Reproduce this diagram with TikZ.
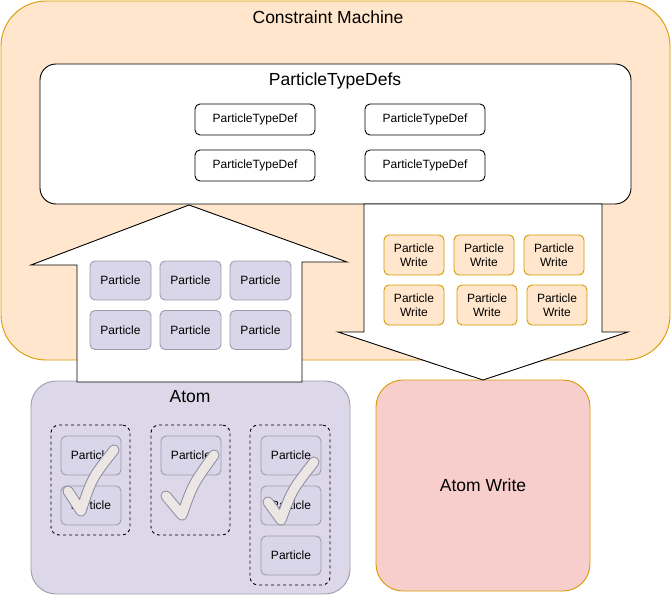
\documentclass[tikz,border=0pt]{standalone}
\usepackage{fontspec}
\setmainfont{Liberation Sans}
\definecolor{cmfill}{HTML}{FFE6CC}
\definecolor{cmline}{HTML}{D79B00}
\definecolor{partfill}{HTML}{D8D6E8}
\definecolor{partline}{HTML}{9C9CAC}
\definecolor{atomfill}{HTML}{DCD8EA}
\definecolor{writefill}{HTML}{F8CECC}
\definecolor{tickfill}{HTML}{ECE6E4}
\definecolor{tickline}{HTML}{8E8E9E}
\tikzset{
  bigtext/.style={font=\fontsize{17.5}{20}\selectfont},
  smalltext/.style={font=\fontsize{12}{14}\selectfont, align=center, inner sep=0pt},
  defbox/.style={smalltext, draw, fill=white, rounded corners=5pt, minimum width=120pt, minimum height=31pt},
  partbox/.style={smalltext, draw=partline, fill=partfill, rounded corners=5pt, minimum width=61pt, minimum height=39pt},
  writebox/.style={smalltext, draw=cmline, fill=cmfill, rounded corners=5pt, minimum width=60pt, minimum height=40pt},
  group/.style={draw, dash pattern=on 3pt off 3pt, rounded corners=8pt, inner sep=0pt},
  tick/.style={draw=tickline, line width=11pt, line cap=round, line join=round,
    postaction={draw=tickfill, line width=9pt}}
}
\begin{document}
\begin{tikzpicture}[x=1pt,y=-1pt,line width=0.9pt]
  \useasboundingbox (0,0) rectangle (671,596);
  % machine
  \draw[draw=cmline, fill=cmfill, rounded corners=45pt] (1,1) rectangle (670,360);
  \node[bigtext] (cm) at (328,17) {Constraint Machine};
  % atoms below
  \node[draw=partline, fill=atomfill, rounded corners=25pt, minimum width=319pt, minimum height=213pt] (atom) at (190.5,487.5) {};
  \node[bigtext] (atomtitle) at (190,397) {Atom};
  \node[bigtext, draw=cmline, fill=writefill, rounded corners=27pt, minimum width=214pt, minimum height=211pt] (atomwrite) at (483,485.5) {Atom Write};
  % type defs
  \draw[fill=white, rounded corners=16pt] (40,64) rectangle (631,204);
  \node[bigtext] (defs) at (335,81) {ParticleTypeDefs};
  \node[defbox] (def1) at (255,119.5) {ParticleTypeDef};
  \node[defbox] (def2) at (425,119.5) {ParticleTypeDef};
  \node[defbox] (def3) at (255,165.5) {ParticleTypeDef};
  \node[defbox] (def4) at (425,165.5) {ParticleTypeDef};
  % arrows
  \draw[fill=white] (189,205) -- (347,262) -- (302,262) -- (302,382) -- (77,382) -- (77,265) -- (31,265) -- cycle;
  \draw[fill=white] (364,204) -- (602,204) -- (602,332) -- (628,332) -- (483,380) -- (338,332) -- (364,332) -- cycle;
  \foreach \x [count=\i] in {120.5,190.5,260.5} {
    \node[partbox] (in\i) at (\x,280.5) {Particle};
    \node[partbox] (in\i b) at (\x,330) {Particle};
  }
  \node[writebox] (w1) at (414,255) {Particle\\Write};
  \node[writebox] (w2) at (484,255) {Particle\\Write};
  \node[writebox] (w3) at (554,255) {Particle\\Write};
  \node[writebox] (w4) at (414,305) {Particle\\Write};
  \node[writebox] (w5) at (487,305) {Particle\\Write};
  \node[writebox] (w6) at (557,305) {Particle\\Write};
  % groups inside the atom
  \node[group, minimum width=79pt, minimum height=110pt] (g1) at (90.5,480) {};
  \node[group, minimum width=79pt, minimum height=110pt] (g2) at (190.5,480) {};
  \node[group, minimum width=80pt, minimum height=160pt] (g3) at (290,505) {};
  \node[partbox, minimum width=60pt] (p1) at (91,455.5) {Particle};
  \node[partbox, minimum width=60pt] (p2) at (91,505.5) {Particle};
  \node[partbox, minimum width=60pt] (p3) at (191,455.5) {Particle};
  \node[partbox, minimum width=60pt] (p4) at (291,455.5) {Particle};
  \node[partbox, minimum width=60pt] (p5) at (291,505.5) {Particle};
  \node[partbox, minimum width=60pt] (p6) at (291,555.5) {Particle};
  \draw[tick] (68,491) -- (81,511) .. controls (92,478) .. (114,450);
  \draw[tick] (166,496) -- (182,515) .. controls (193,484) .. (214,455);
  \draw[tick] (268,502) -- (281,520) .. controls (292,490) .. (314,462);
\end{tikzpicture}
\end{document}
